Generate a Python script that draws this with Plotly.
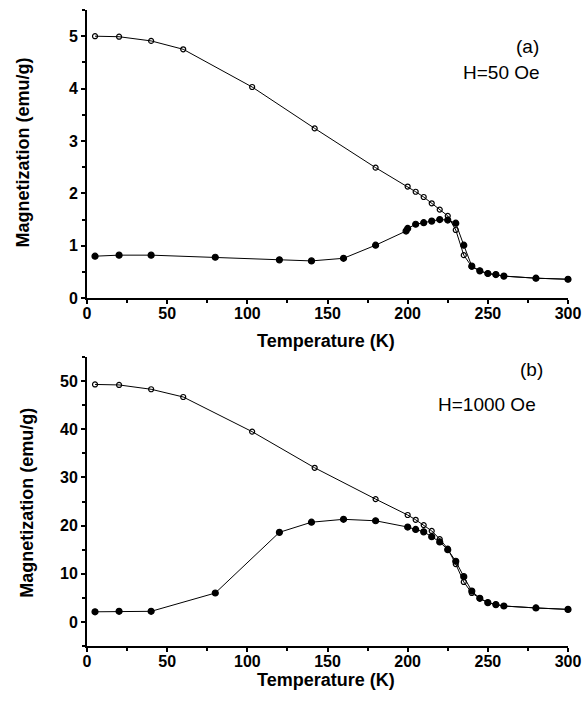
import plotly.graph_objects as go

# Panel (a) H=50 Oe
T_fc_a = [5, 20, 40, 60, 103, 142, 180, 200, 205, 210, 215, 220, 225, 230, 235, 240, 245, 250, 255, 260, 280, 300]
M_fc_a = [5.0, 4.99, 4.91, 4.75, 4.03, 3.24, 2.49, 2.13, 2.03, 1.93, 1.81, 1.69, 1.57, 1.30, 0.82, 0.60, 0.52, 0.47, 0.45, 0.42, 0.38, 0.36]
T_zfc_a = [5, 20, 40, 80, 120, 140, 160, 180, 199, 200, 205, 210, 215, 220, 225, 230, 235, 240, 245, 250, 255, 260, 280, 300]
M_zfc_a = [0.80, 0.82, 0.82, 0.78, 0.73, 0.71, 0.76, 1.01, 1.28, 1.33, 1.41, 1.44, 1.47, 1.50, 1.49, 1.43, 1.01, 0.61, 0.52, 0.47, 0.45, 0.42, 0.38, 0.36]

# Panel (b) H=1000 Oe
T_fc_b = [5, 20, 40, 60, 103, 142, 180, 200, 205, 210, 215, 220, 225, 230, 235, 240, 245, 250, 255, 260, 280, 300]
M_fc_b = [49.3, 49.2, 48.3, 46.7, 39.5, 32.0, 25.5, 22.2, 21.2, 20.1, 18.9, 17.2, 15.2, 12.0, 8.3, 6.0, 4.9, 4.0, 3.6, 3.3, 2.9, 2.6]
T_zfc_b = [5, 20, 40, 80, 120, 140, 160, 180, 200, 205, 210, 215, 220, 225, 230, 235, 240, 245, 250, 255, 260, 280, 300]
M_zfc_b = [2.1, 2.2, 2.2, 6.0, 18.6, 20.7, 21.3, 21.0, 19.7, 19.2, 18.7, 17.7, 16.6, 15.0, 12.6, 9.4, 6.4, 4.9, 4.0, 3.6, 3.3, 2.9, 2.6]

x_ticks = [0, 50, 100, 150, 200, 250, 300]
y_ticks_a = [0, 1, 2, 3, 4, 5]
y_ticks_b = [0, 10, 20, 30, 40, 50]

FONT = "Arial, Liberation Sans, sans-serif"

fig = go.Figure()

def add_series(T, M, xa, ya, filled):
    fig.add_trace(go.Scatter(
        x=T, y=M, xaxis=xa, yaxis=ya, mode="lines+markers",
        line=dict(color="black", width=1),
        marker=dict(symbol="circle" if filled else "circle-open", size=6 if filled else 5,
                    color="black", line=dict(color="black", width=1.2)),
        cliponaxis=False, showlegend=False))

add_series(T_fc_a, M_fc_a, "x", "y", False)
add_series(T_zfc_a, M_zfc_a, "x", "y", True)
add_series(T_fc_b, M_fc_b, "x2", "y2", False)
add_series(T_zfc_b, M_zfc_b, "x2", "y2", True)

tickfont = dict(family=FONT, size=16, color="black", weight="bold")
titlefont = dict(family=FONT, size=18, color="black", weight="bold")
notefont = dict(family=FONT, size=19, color="black")

def xaxis(anchor):
    return dict(range=[0, 300], tickvals=x_ticks, ticks="outside", ticklen=4, tickwidth=1.5,
                tickcolor="black", showline=True, linecolor="black", linewidth=2,
                showgrid=False, zeroline=False, tickfont=tickfont, anchor=anchor, automargin=False,
                ticklabelstandoff=-4,
                minor=dict(dtick=25, tick0=0, ticks="outside", ticklen=3, tickcolor="black", showgrid=False))

def yaxis(anchor, rng, vals, dom, minor):
    return dict(range=rng, tickvals=vals, ticks="outside", ticklen=4, tickwidth=1.5,
                tickcolor="black", showline=True, linecolor="black", linewidth=2,
                showgrid=False, zeroline=False, tickfont=tickfont, anchor=anchor, domain=dom, automargin=False,
                minor=dict(dtick=minor, tick0=0, ticks="outside", ticklen=3, tickcolor="black", showgrid=False))

def note(text, x, y, font, angle=0):
    return dict(text=text, x=x, y=y, xref="paper", yref="paper", showarrow=False,
                xanchor="center", yanchor="middle", textangle=angle, font=font)

fig.update_layout(
    width=587, height=706,
    margin=dict(l=87, r=19, t=10, b=60),
    paper_bgcolor="white", plot_bgcolor="white",
    xaxis=xaxis("y"),
    yaxis=yaxis("x", [0, 5.5], y_ticks_a, [0.547, 1.0], 0.5),
    xaxis2=xaxis("y2"),
    yaxis2=yaxis("x2", [-5, 55], y_ticks_b, [0.0, 0.4544], 5),
    annotations=[
        note("(a)", 0.916, 0.943, notefont),
        note("H=50 Oe", 0.861, 0.901, notefont),
        note("(b)", 0.925, 0.434, notefont),
        note("H=1000 Oe", 0.831, 0.3805, notefont),
        note("Temperature (K)", 0.496, 0.4788, titlefont),
        note("Temperature (K)", 0.496, -0.0535, titlefont),
        note("Magnetization (emu/g)", -0.133, 0.776, titlefont, -90),
        note("Magnetization (emu/g)", -0.125, 0.225, titlefont, -90),
    ],
)

fig.write_html("out.html")
